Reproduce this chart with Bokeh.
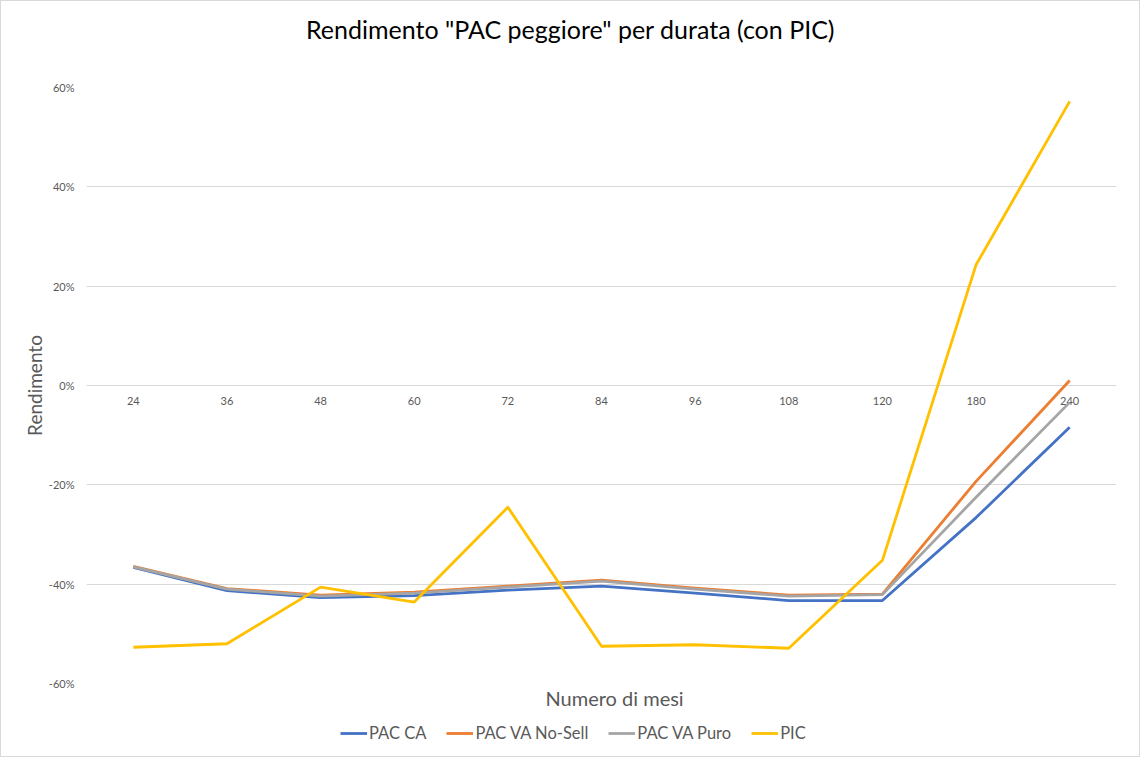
from bokeh.plotting import figure
from bokeh.layouts import column
from bokeh.models import (ColumnDataSource, FactorRange, Range1d, FixedTicker, NumeralTickFormatter,
                          Legend, LegendItem, Title)
from bokeh.core.properties import value
from bokeh.embed import file_html
from bokeh.resources import INLINE

title_text = 'Rendimento "PAC peggiore" per durata (con PIC)'
x_title = "Numero di mesi"
y_title = "Rendimento"
months = ["24", "36", "48", "60", "72", "84", "96", "108", "120", "180", "240"]
pac_ca = [-36.6, -41.3, -42.7, -42.3, -41.2, -40.4, -41.8, -43.3, -43.3, -26.6, -8.4]
pac_va_nosell = [-36.4, -40.9, -42.2, -41.6, -40.4, -39.2, -40.8, -42.2, -42.0, -19.3, 1.0]
pac_va_puro = [-36.5, -41.0, -42.4, -41.8, -40.6, -39.4, -41.0, -42.4, -42.1, -22.5, -3.4]
pic = [-52.7, -52.0, -40.6, -43.6, -24.5, -52.5, -52.2, -52.9, -35.2, 24.3, 57.2]
y_ticks = [-60, -40, -20, 0, 20, 40, 60]

series = [
    ("PAC CA", pac_ca, "#4472C4"),
    ("PAC VA No-Sell", pac_va_nosell, "#ED7D31"),
    ("PAC VA Puro", pac_va_puro, "#A5A5A5"),
    ("PIC", pic, "#FFC000"),
]

FONT = "Lato"
GREY = "#595959"
W = 1138
LEFT, RIGHT = 85, 23
H_TOP, H_MAIN, H_BOT = 56, 656, 43


def blank(height):
    # frames of plots in a column are aligned with the main chart's frame
    f = figure(width=W, height=height, x_range=Range1d(LEFT, W - RIGHT), y_range=Range1d(0, height),
               output_backend="svg", toolbar_location=None, min_border=0)
    f.axis.visible = False
    f.grid.visible = False
    f.outline_line_color = None
    return f


# title strip
tp = blank(H_TOP)
tp.text(x=[W / 2], y=[H_TOP - 27], text=[title_text], text_font=value(FONT), text_font_size="25px",
        text_color="#000000", text_align="center", text_baseline="middle")

# main chart
p = figure(
    width=W, height=H_MAIN,
    x_range=FactorRange(*months),
    y_range=Range1d(-0.6, 0.6),
    output_backend="svg", toolbar_location=None,
    min_border_left=LEFT, min_border_right=RIGHT, min_border_top=30, min_border_bottom=30,
)
p.outline_line_color = None
p.xgrid.grid_line_color = None
p.ygrid.grid_line_color = "#D9D9D9"
p.ygrid.ticker = FixedTicker(ticks=[t / 100 for t in y_ticks])

p.yaxis.ticker = FixedTicker(ticks=[t / 100 for t in y_ticks])
p.yaxis.formatter = NumeralTickFormatter(format="0%")
p.yaxis.axis_line_color = None
p.yaxis.major_tick_line_color = None
p.yaxis.minor_tick_line_color = None
p.yaxis.major_label_text_font = FONT
p.yaxis.major_label_text_font_size = "11px"
p.yaxis.major_label_text_color = GREY
p.yaxis.major_label_standoff = 6
p.yaxis.axis_label = y_title
p.yaxis.axis_label_text_font = FONT
p.yaxis.axis_label_text_font_size = "19px"
p.yaxis.axis_label_text_font_style = "normal"
p.yaxis.axis_label_text_color = GREY
p.yaxis.axis_label_standoff = 0

p.xaxis.visible = False
p.add_layout(Title(text=x_title, align="left", offset=459, text_font=FONT, text_font_size="20px",
                   text_font_style="normal", text_color=GREY, standoff=0), "below")

# category labels sit on the 0% line
lsrc = ColumnDataSource(dict(x=months, y=[0] * len(months)))
p.text(x="x", y="y", text="x", source=lsrc, text_font=value(FONT), text_font_size="11px",
       text_color=GREY, text_align="center", text_baseline="middle", y_offset=15)

for name, vals, color in series:
    src = ColumnDataSource(dict(x=months, y=[v / 100 for v in vals]))
    p.line(x="x", y="y", source=src, line_color=color, line_width=2.8, line_join="round")

# legend strip
bp = blank(H_BOT)
items = []
for name, vals, color in series:
    r = bp.line(x=[-300, -200], y=[-30, -20], line_color=color, line_width=2.8)
    items.append(LegendItem(label=name, renderers=[r]))
legend = Legend(items=items, orientation="horizontal", location=(254, 13),
                border_line_color=None, background_fill_alpha=0,
                label_text_font=FONT, label_text_font_size="16.5px", label_text_color=GREY,
                glyph_width=27, glyph_height=14, label_standoff=2, spacing=20,
                padding=0, margin=0)
bp.add_layout(legend, "center")

layout = column(tp, p, bp, spacing=0, styles={"border": "1px solid #D9D9D9"})
open("out.html", "w").write(file_html(layout, INLINE))
